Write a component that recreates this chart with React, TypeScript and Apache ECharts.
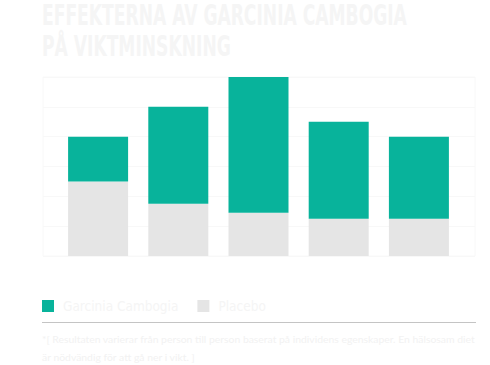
import React, { useEffect, useRef } from "react";
import * as echarts from "echarts";

const categories = ["1", "2", "3", "4", "5"];
const placeboValues = [2.5, 1.75, 1.45, 1.25, 1.25];
const garciniaValues = [1.5, 3.25, 4.55, 3.25, 2.75];
const seriesNames = ["Garcinia Cambogia", "Placebo"];
const titleLines = ["EFFEKTERNA AV GARCINIA CAMBOGIA", "PÅ VIKTMINSKNING"];
const footnoteLines = [
  "*[ Resultaten varierar från person till person baserat på individens egenskaper. En hälsosam diet",
  "är nödvändig för att gå ner i vikt. ]",
];

const TEAL = "#08b39b";
const GREY = "#e5e5e5";
const FAINT = "#f5f5f5";
const COND = "'Liberation Sans Narrow', 'DejaVu Sans Condensed', sans-serif";

export default function App() {
  const ref = useRef<HTMLDivElement>(null);
  useEffect(() => {
    if (!ref.current) return;
    const chart = echarts.init(ref.current, null, { renderer: "svg" });
    chart.setOption({
      animation: false,
      backgroundColor: "#ffffff",
      grid: [
        { left: 43, right: 15, top: 77, bottom: 109, show: true, borderColor: "#f8f8f8", borderWidth: 1 },
        { left: 58, width: 401, top: 77, bottom: 109 },
      ],
      xAxis: [
        { gridIndex: 0, type: "category", data: categories, show: false },
        { gridIndex: 1, type: "category", data: categories, show: false },
      ],
      yAxis: [
        {
          gridIndex: 0, type: "value", min: 0, max: 6, interval: 1,
          axisLabel: { show: false }, axisLine: { show: false }, axisTick: { show: false },
          splitLine: { lineStyle: { color: "#f8f8f8", width: 1 } },
        },
        {
          gridIndex: 1, type: "value", min: 0, max: 6, interval: 1, show: false,
          splitLine: { show: false },
        },
      ],
      legend: {
        data: seriesNames,
        left: 37,
        top: 294,
        icon: "rect",
        itemWidth: 12,
        itemHeight: 12,
        itemGap: 19,
        textStyle: { color: FAINT, fontSize: 13.5, fontFamily: COND, padding: [0, 0, 0, 4] },
      },
      series: [
        {
          name: "Placebo", type: "bar", stack: "s", xAxisIndex: 1, yAxisIndex: 1,
          data: placeboValues, barWidth: 60, itemStyle: { color: GREY },
        },
        {
          name: "Garcinia Cambogia", type: "bar", stack: "s", xAxisIndex: 1, yAxisIndex: 1,
          data: garciniaValues, barWidth: 60, itemStyle: { color: TEAL },
        },
      ],
      graphic: [
        {
          type: "text", x: 42, y: 2, scaleX: 0.68,
          style: { text: titleLines[0], fill: FAINT, font: "bold 28px " + COND },
        },
        {
          type: "text", x: 42, y: 33, scaleX: 0.68,
          style: { text: titleLines[1], fill: FAINT, font: "bold 28px " + COND },
        },
        {
          type: "line", shape: { x1: 42, y1: 322.5, x2: 476, y2: 322.5 },
          style: { stroke: "#c4c4c4", lineWidth: 1 },
        },
        {
          type: "text", left: 42, top: 334,
          style: { text: footnoteLines[0], fill: "#f2f2f2", font: "10.4px Lato, sans-serif" },
        },
        {
          type: "text", left: 42, top: 352,
          style: { text: footnoteLines[1], fill: "#f2f2f2", font: "10.4px Lato, sans-serif" },
        },
      ],
    });
    return () => chart.dispose();
  }, []);
  return <div ref={ref} style={{ width: 490, height: 365, position: "absolute", left: 0, top: 0 }} />;
}
